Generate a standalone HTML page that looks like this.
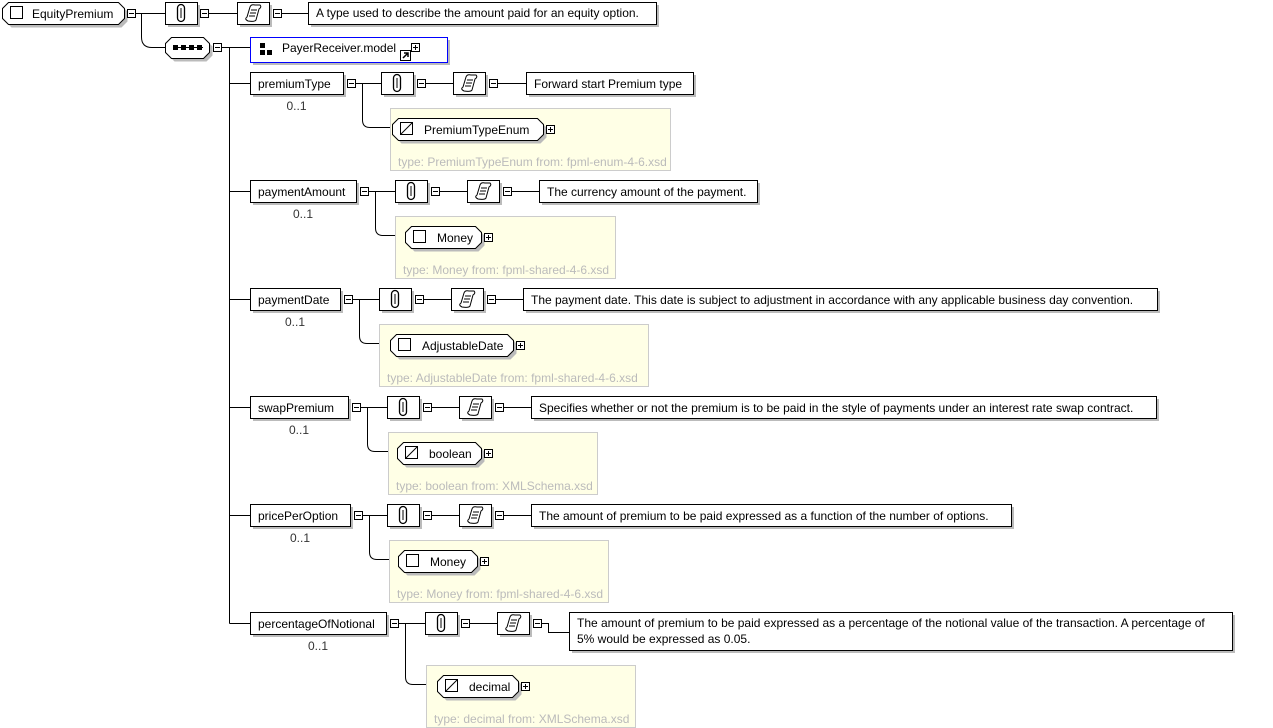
<!DOCTYPE html>
<html><head><meta charset="utf-8"><style>
html,body{margin:0;padding:0;background:#fff;width:1273px;height:728px;overflow:hidden}
svg{display:block}
text{font-family:"Liberation Sans",Arial,sans-serif;font-size:12px;fill:#000}
</style></head><body>
<svg id="s" width="1273" height="728" xmlns="http://www.w3.org/2000/svg"></svg>
<script>
var S=document.getElementById('s'),o='';
function L(x1,y1,x2,y2){o+=`<line x1="${x1}" y1="${y1}" x2="${x2}" y2="${y2}" stroke="#000" stroke-width="1"/>`;}
function P(d,f,st){o+=`<path d="${d}" fill="${f||'none'}" stroke="${st||'#000'}" stroke-width="1"/>`;}
function T(x,y,t,c,a){o+=`<text x="${x}" y="${y}"${c?` style="fill:${c}"`:''}${a?` text-anchor="${a}"`:''}>${t}</text>`;}
function box(x,y,w,h,st){o+=`<rect x="${x+3}" y="${y+3}" width="${w}" height="${h}" fill="#bbb"/><rect x="${x+.5}" y="${y+.5}" width="${w}" height="${h}" fill="#fff" stroke="${st||'#000'}"/>`;}
function oct(x,y,w,h,sh){var c=6,d=`M${x+c+.5} ${y+.5}H${x+w-c+.5}L${x+w+.5} ${y+c+.5}V${y+h-c+.5}L${x+w-c+.5} ${y+h+.5}H${x+c+.5}L${x+.5} ${y+h-c+.5}V${y+c+.5}Z`;
 if(sh!==false)o+=`<path d="${d}" transform="translate(3,3)" fill="#bbb"/>`;P(d,'#fff');}
function pm(x,cy,plus){var y=Math.round(cy)-4;o+=`<rect x="${x+.5}" y="${y+.5}" width="8" height="8" fill="#fff" stroke="#000"/>`;L(x+2,y+4.5,x+7,y+4.5);if(plus)L(x+4.5,y+2,x+4.5,y+7);}
function anno(x,cy){box(x,cy-11,32,22);var cx=x+16;o+=`<rect x="${cx-3.5}" y="${cy-8.5}" width="7" height="17" rx="3.5" fill="none" stroke="#000" stroke-width="1.3"/><line x1="${cx}" y1="${cy-5}" x2="${cx}" y2="${cy+5}" stroke="#000"/>`;}
function doc(x,cy){box(x,cy-11,32,22);var cx=x+16;P(`M${cx-5} ${cy+8}Q${cx-9} ${cy+6} ${cx-6} ${cy+4}L${cx-3} ${cy-6}Q${cx-2} ${cy-9} ${cx+2} ${cy-8}H${cx+7}Q${cx+9} ${cy-6} ${cx+6} ${cy-4}L${cx+3} ${cy+7}Q${cx+2} ${cy+9} ${cx-5} ${cy+8}Z`,'#fff');L(cx-2,cy-3,cx+4,cy-3);L(cx-3,cy,cx+3,cy);L(cx-4,cy+3,cx+2,cy+3);}
function sqIcon(x,cy){o+=`<rect x="${x+.5}" y="${cy-6.5}" width="12" height="12" fill="#fff" stroke="#000"/>`;}
function triIcon(x,cy){o+=`<rect x="${x+.5}" y="${cy-6.5}" width="12" height="12" fill="#fff" stroke="#000"/>`;L(x+1,cy+5,x+12,cy-6);}

// root
oct(2,2,122,22);sqIcon(10,13);T(32,18,'EquityPremium');
pm(127,13);L(136,13.5,165,13.5);anno(165,13);pm(200,13);L(209,13.5,237,13.5);doc(237,13);pm(273,13);L(282,13.5,308,13.5);
box(308,2,348,22);T(316,17,'A type used to describe the amount paid for an equity option.');
// to sequence
P('M141.5 13.5V37Q141.5 47.5 152 47.5H165');
oct(165,37,44,21);for(var i=0;i<4;i++){o+=`<rect x="${173+i*8}" y="${45}" width="5" height="5" fill="#000"/>`;}L(173,47.5,203,47.5);
pm(213,47);L(222,47.5,250,47.5);L(229.5,47.5,229.5,623.5);
box(250,37,197,25,'#00f');o+=`<rect x="260" y="43" width="5" height="5"/><rect x="260" y="50" width="5" height="5"/><rect x="267" y="50" width="5" height="5"/>`;
T(282,52,'PayerReceiver.model');o+=`<rect x="400.5" y="50.5" width="10" height="10" fill="#fff" stroke="#000"/><path d="M403 58L408 53M404 53H408V57" stroke="#000" stroke-width="1.5" fill="none"/>`;pm(411,47,1);

var E=[
['premiumType',83,93,381,453,526,693,'Forward start Premium type',390,670,108,392,543,'PremiumTypeEnum',1,'type: PremiumTypeEnum from: fpml-enum-4-6.xsd'],
['paymentAmount',191,106,395,467,539,757,'The currency amount of the payment.',395,615,216,405,481,'Money',0,'type: Money from: fpml-shared-4-6.xsd'],
['paymentDate',299,90,379,451,523,1157,'The payment date. This date is subject to adjustment in accordance with any applicable business day convention.',379,648,324,390,513,'AdjustableDate',0,'type: AdjustableDate from: fpml-shared-4-6.xsd'],
['swapPremium',407,98,387,459,531,1156,'Specifies whether or not the premium is to be paid in the style of payments under an interest rate swap contract.',388,597,432,397,481,'boolean',1,'type: boolean from: XMLSchema.xsd'],
['pricePerOption',515,100,387,459,531,1011,'The amount of premium to be paid expressed as a function of the number of options.',389,608,540,398,477,'Money',0,'type: Money from: fpml-shared-4-6.xsd'],
['percentageOfNotional',623,136,425,497,569,1232,'',426,635,665,437,518,'decimal',1,'type: decimal from: XMLSchema.xsd']
];
E.forEach(function(e){var n=e[0],cy=e[1],w=e[2],ax=e[3],dx=e[4],tx=e[5],tr=e[6];
 L(229.5,cy+.5,250,cy+.5);box(250,cy-11,w,22);T(258,cy+5,n);
 T(250+w/2,cy+27,'0..1','#333','middle');
 var mx=250+w+4;pm(mx,cy);L(mx+9,cy+.5,ax,cy+.5);anno(ax,cy);pm(ax+36,cy);L(ax+45,cy+.5,dx,cy+.5);doc(dx,cy);pm(dx+36,cy);
 var ex=mx+15;
 if(e[7]){L(dx+45,cy+.5,tx,cy+.5);box(tx,cy-11,tr-tx,22);T(tx+8,cy+5,e[7]);}
 else{P(`M${dx+45} ${cy+.5}H${dx+51.5}V${cy+9.5}H${tx}`);box(tx,cy-11,tr-tx,38);T(tx+8,cy+4,'The amount of premium to be paid expressed as a percentage of the notional value of the transaction. A percentage of');T(tx+8,cy+20,'5% would be expressed as 0.05.');}
 // type box
 var bx=e[8],br=e[9],by=e[10];
 o+=`<rect x="${bx+.5}" y="${by+.5}" width="${br-bx}" height="62" fill="#ffffe6" stroke="#ccc"/>`;
 P(`M${ex+.5} ${cy+.5}V${by+12}Q${ex+.5} ${by+19.5} ${ex+8} ${by+19.5}H${bx}`);
 var ix=e[11],ir=e[12];oct(ix,by+10,ir-ix,22);
 if(e[14])triIcon(ix+8,by+21);else sqIcon(ix+8,by+21);
 T(ix+32,by+26,e[13]);pm(ir+3,by+21,1);
 T(bx+8,by+58,e[15],'#bbb');
});
S.innerHTML=o;
</script>
</body></html>
